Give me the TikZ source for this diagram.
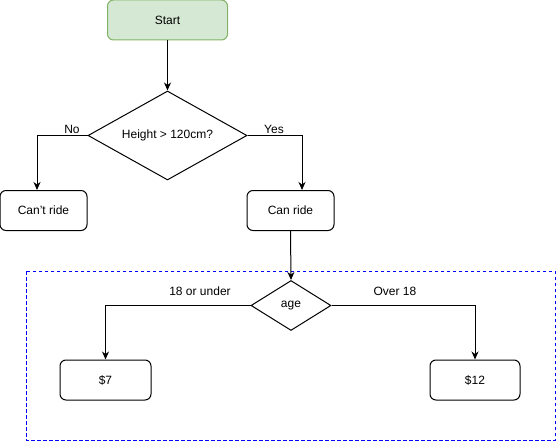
\documentclass[tikz,border=0pt]{standalone}
\usepackage{fontspec}
\setmainfont{Liberation Sans}
\usetikzlibrary{arrows.meta,shapes.geometric}
\definecolor{startfill}{HTML}{D5E8D4}
\definecolor{startline}{HTML}{82B366}
\definecolor{groupline}{HTML}{0000FF}
\begin{document}
\begin{tikzpicture}[x=1pt,y=-1pt,
  every node/.style={font=\fontsize{12}{14}\selectfont, inner sep=0pt},
  box/.style={draw=black, line width=1pt, rounded corners=6pt, minimum width=#1, minimum height=40pt},
  box/.default=87pt,
  decision/.style={draw=black, line width=1pt, diamond, aspect=1.7, inner sep=0pt},
  flow/.style={draw=black, line width=1pt, -{Stealth[length=8pt,width=7pt,inset=2.5pt]}},
  lbl/.style={anchor=base}
]
\useasboundingbox (0,0) rectangle (557,441);

% dashed frame around the pricing step
\draw[groupline, line width=1pt, dash pattern=on 3.5pt off 2.5pt] (26,271) rectangle (555,440);

% nodes
\node[box=120pt, fill=startfill, draw=startline] (start) at (167.5,20) {Start};
\node[decision, minimum width=159pt, minimum height=89pt] (q1) at (167.5,135.5) {Height > 120cm?};
\node[box=87pt] (no) at (43.5,210.5) {Can't ride};
\node[box=87pt] (yes) at (290.5,210.5) {Can ride};
\node[decision, minimum width=80pt, minimum height=50pt] (q2) at (291,305.5) {age};
\node[box=91pt] (low) at (105.5,380) {\$7};
\node[box=90pt] (high) at (475,380) {\$12};

% connectors
\draw[flow] (start.south) -- (q1.north);
\draw[flow] (q1.west) -| ([xshift=-6.5pt]no.north);
\draw[flow] (q1.east) -| ([xshift=11.5pt]yes.north);
\draw[flow] (yes.south) -- (q2.north);
\draw[flow] (q2.west) -| (low.north);
\draw[flow] (q2.east) -| (high.north);

% edge labels
\node[lbl] (lno) at (72,134) {No};
\node[lbl] (lyes) at (274,134) {Yes};
\node[lbl] (llow) at (200,295) {18 or under};
\node[lbl] (lhigh) at (395,295) {Over 18};
\end{tikzpicture}
\end{document}
